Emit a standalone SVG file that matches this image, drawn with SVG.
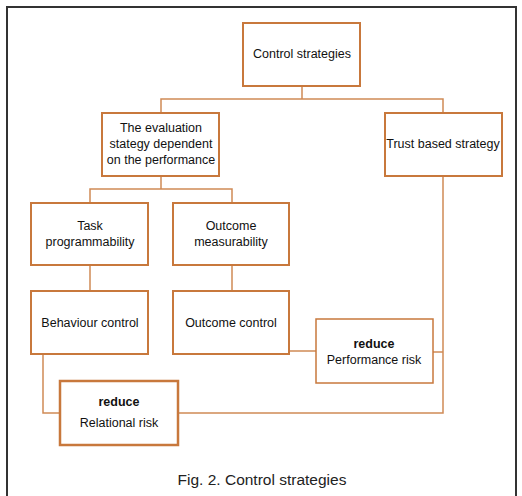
<svg xmlns="http://www.w3.org/2000/svg" width="522" height="496" viewBox="0 0 522 496">
<style>
.box{fill:#fff;stroke:#C8783C;stroke-width:2}
.thin{stroke-width:1.5}
.thick{stroke-width:2.5}
.t{font-family:"Liberation Sans",Arial,sans-serif;font-size:12.5px;fill:#111;text-anchor:middle}
.b{font-weight:bold}
.c{fill:none;stroke:#D08A55;stroke-width:1.5}
</style>
<rect x="0" y="0" width="522" height="496" fill="#fff"/>
<rect x="7" y="7" width="509" height="492" fill="none" stroke="#333" stroke-width="2"/>
<g id="connectors">
<path class="c" d="M302 86V99M161 113V99H443V113"/>
<path class="c" d="M161 176V189M90 203V189H232V203"/>
<path class="c" d="M90 265V291M232 265V291"/>
<path class="c" d="M289 351H316M433 352H443"/>
<path class="c" d="M443 176V413H178"/>
<path class="c" d="M43 354V413H60"/>
</g>
<g id="control-strategies"><rect class="box" x="243" y="23" width="117" height="63"/><text class="t" x="302" y="58">Control strategies</text></g>
<g id="evaluation"><rect class="box" x="102" y="113" width="117" height="63"/><text class="t" x="161" y="132">The evaluation</text><text class="t" x="161" y="148">stategy dependent</text><text class="t" x="161" y="164">on the performance</text></g>
<g id="trust"><rect class="box" x="385" y="113" width="117" height="63"/><text class="t" x="443" y="148">Trust based strategy</text></g>
<g id="task"><rect class="box" x="31" y="203" width="117" height="62"/><text class="t" x="90" y="230">Task</text><text class="t" x="90" y="246">programmability</text></g>
<g id="outcome-measurability"><rect class="box" x="173" y="203" width="116" height="62"/><text class="t" x="231" y="230">Outcome</text><text class="t" x="231" y="246">measurability</text></g>
<g id="behaviour"><rect class="box" x="31" y="291" width="117" height="63"/><text class="t" x="90" y="327">Behaviour control</text></g>
<g id="outcome-control"><rect class="box" x="173" y="291" width="116" height="63"/><text class="t" x="231" y="327">Outcome control</text></g>
<g id="performance-risk"><rect class="box thin" x="316" y="319" width="117" height="64"/><text class="t b" x="374" y="348">reduce</text><text class="t" x="374" y="364">Performance risk</text></g>
<g id="relational-risk"><rect class="box thick" x="60" y="381" width="118" height="64"/><text class="t b" x="119" y="406">reduce</text><text class="t" x="119" y="427">Relational risk</text></g>
<text x="262" y="485" font-family="Liberation Sans,Arial,sans-serif" font-size="15.5" fill="#222" text-anchor="middle">Fig. 2. Control strategies</text>
</svg>
